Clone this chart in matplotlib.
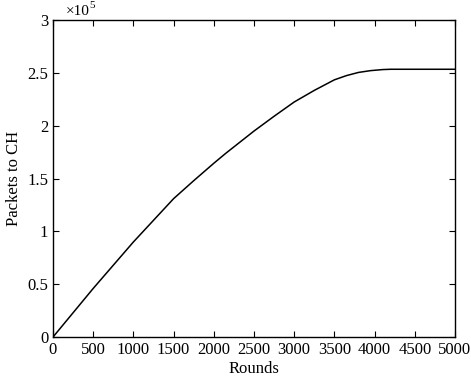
import numpy as np
import matplotlib
matplotlib.use('Agg')
import matplotlib.pyplot as plt
from matplotlib.ticker import FormatStrFormatter

# values (packets to CH, in units of 1e5)
rounds = [0, 500, 1000, 1500, 1750, 2000, 2150, 2250, 2400, 2500, 2750, 3000,
          3250, 3500, 3650, 3800, 3950, 4100, 4200, 5000]
packets = [0, 0.46, 0.90, 1.31, 1.48, 1.645, 1.74, 1.80, 1.89, 1.95, 2.09, 2.225,
           2.335, 2.435, 2.475, 2.505, 2.522, 2.532, 2.535, 2.535]

plt.rcParams['font.family'] = ['Liberation Serif', 'DejaVu Serif']

fig = plt.figure(figsize=(4.71, 3.80), dpi=100)
ax = fig.add_axes([0.1125, 0.113, 0.8535, 0.834])

ax.plot(rounds, packets, color='black', lw=1.1)

ax.set_xlim(0, 5000)
ax.set_ylim(0, 3)
ax.set_xticks(np.arange(0, 5001, 500))
ax.set_yticks(np.arange(0, 3.01, 0.5))
ax.yaxis.set_major_formatter(FormatStrFormatter('%g'))

# scale factor shown above the y axis
ax.annotate('\u00d710', (0, 1), xycoords='axes fraction', xytext=(9, 4),
            textcoords='offset points', ha='left', va='baseline', fontsize=11)
ax.annotate('5', (0, 1), xycoords='axes fraction', xytext=(26, 9),
            textcoords='offset points', ha='left', va='baseline', fontsize=8)

ax.tick_params(direction='in', top=True, right=True, labelsize=12, length=4)
for s in ax.spines.values():
    s.set_linewidth(1.0)

ax.set_xlabel('Rounds', fontsize=12, labelpad=2)
ax.set_ylabel('Packets to CH', fontsize=12)

plt.savefig('out.png', dpi=100)
